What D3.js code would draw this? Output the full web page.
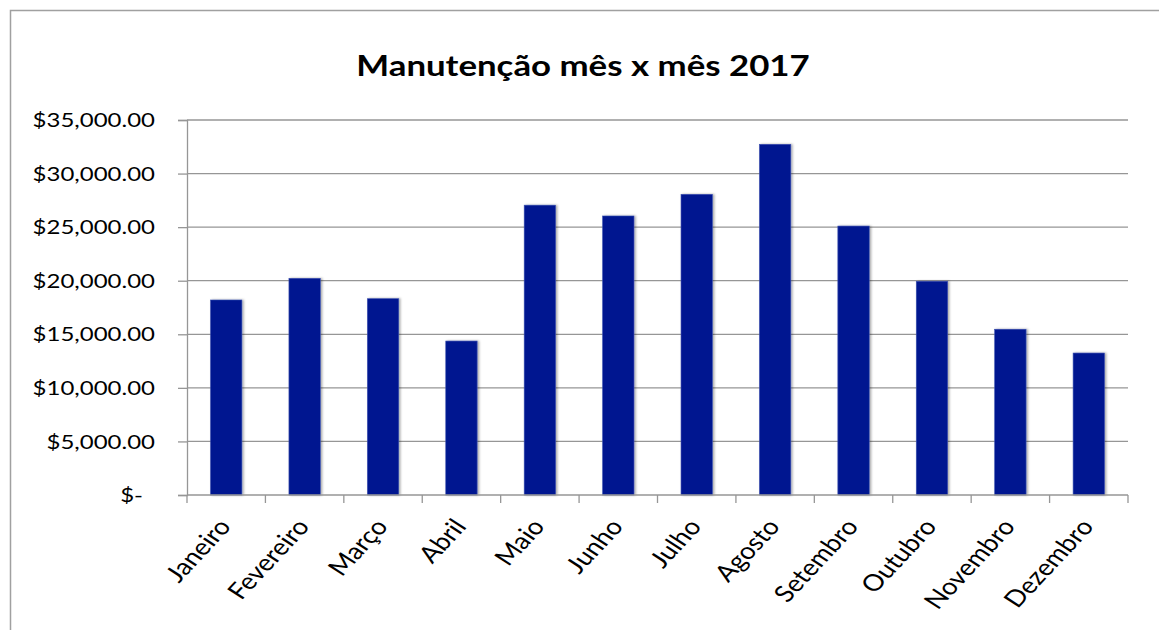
<!DOCTYPE html>
<html><head><meta charset="utf-8">
<script src="https://cdn.jsdelivr.net/npm/d3@7/dist/d3.min.js"></script>
<style>body{margin:0;background:#fff}svg{display:block}</style>
</head><body>
<svg id="c" width="1159" height="630"></svg>
<script>
const months = ["Janeiro","Fevereiro","Março","Abril","Maio","Junho","Julho","Agosto","Setembro","Outubro","Novembro","Dezembro"];
const values = [18200,20220,18320,14370,27050,26040,28060,32730,25100,19950,15470,13250];
const yTicks = [0,5000,10000,15000,20000,25000,30000,35000];
const title = "Manutenção mês x mês 2017";

const svg = d3.select("#c");
const font = "Lato, 'Open Sans', sans-serif";
const SX = 1.2; // horizontal stretch of the reference picture
const L = 187, R = 1128, T = 120, B = 495;

const defs = svg.append("defs");
const f = defs.append("filter").attr("id","sh").attr("x","-20%").attr("y","-5%").attr("width","140%").attr("height","110%");
f.append("feDropShadow").attr("dx",1.5).attr("dy",0).attr("stdDeviation",1.2).attr("flood-color","#000").attr("flood-opacity",0.35);

svg.append("rect").attr("x",10.5).attr("y",10.5).attr("width",1200).attr("height",700)
  .attr("fill","#fff").attr("stroke","#a0a0a0").attr("stroke-width",1.5);

const x = d3.scaleBand().domain(months).range([L,R]).paddingInner(0.6).paddingOuter(0.3);
const xb = d3.scaleBand().domain(months).range([L,R]);
const y = d3.scaleLinear().domain([0,35000]).range([B,T]);

// gridlines
svg.append("g").selectAll("line").data(yTicks.filter(d=>d>0)).join("line")
  .attr("x1",L).attr("x2",R).attr("y1",d=>y(d)).attr("y2",d=>y(d))
  .attr("stroke","#969696").attr("stroke-width",1.3);

// y axis
const yAxis = d3.axisLeft(y).tickValues(yTicks).tickSize(9).tickFormat("");
const gy = svg.append("g").attr("transform",`translate(${L},0)`).call(yAxis);
gy.select(".domain").attr("stroke","#969696").attr("stroke-width",1.3);
gy.selectAll(".tick line").attr("stroke","#969696").attr("stroke-width",1.3);
svg.append("g").selectAll("text").data(yTicks).join("text")
  .attr("transform",d=>`translate(${d===0?143:155},${y(d)}) scale(${SX},1)`)
  .attr("dy","0.36em").attr("text-anchor","end")
  .attr("font-family",font).attr("font-size","20px").attr("fill","#000")
  .text(d => d===0 ? "$-" : "$" + d3.format(",.2f")(d));

// bars
svg.append("g").selectAll("rect").data(values).join("rect")
  .attr("x",(d,i)=>x(months[i])).attr("width",x.bandwidth())
  .attr("y",d=>y(d)).attr("height",d=>B-y(d))
  .attr("fill","#011890").attr("stroke","#3a4fb0").attr("stroke-width",0.6)
  .attr("filter","url(#sh)");

// x axis
const gx = svg.append("g").attr("transform",`translate(0,${B})`);
gx.append("line").attr("x1",L).attr("x2",R).attr("stroke","#969696").attr("stroke-width",1.3);
const bounds = months.map(m=>xb(m)).concat([R]);
gx.selectAll("line.t").data(bounds).join("line").attr("class","t")
  .attr("x1",d=>d).attr("x2",d=>d).attr("y1",0).attr("y2",8)
  .attr("stroke","#969696").attr("stroke-width",1.3);
gx.selectAll("text").data(months).join("text")
  .attr("transform",m=>`translate(${xb(m)+xb.bandwidth()/2+6},${32}) scale(${SX},1) rotate(-52)`)
  .attr("text-anchor","end").attr("font-family",font).attr("font-size","23px").attr("fill","#000")
  .text(m=>m);

// title
svg.append("text").attr("transform",`translate(583,76) scale(${SX},1)`).attr("text-anchor","middle")
  .attr("font-family",font).attr("font-weight","bold").attr("font-size","29px").attr("fill","#000")
  .text(title);
</script>
</body></html>
